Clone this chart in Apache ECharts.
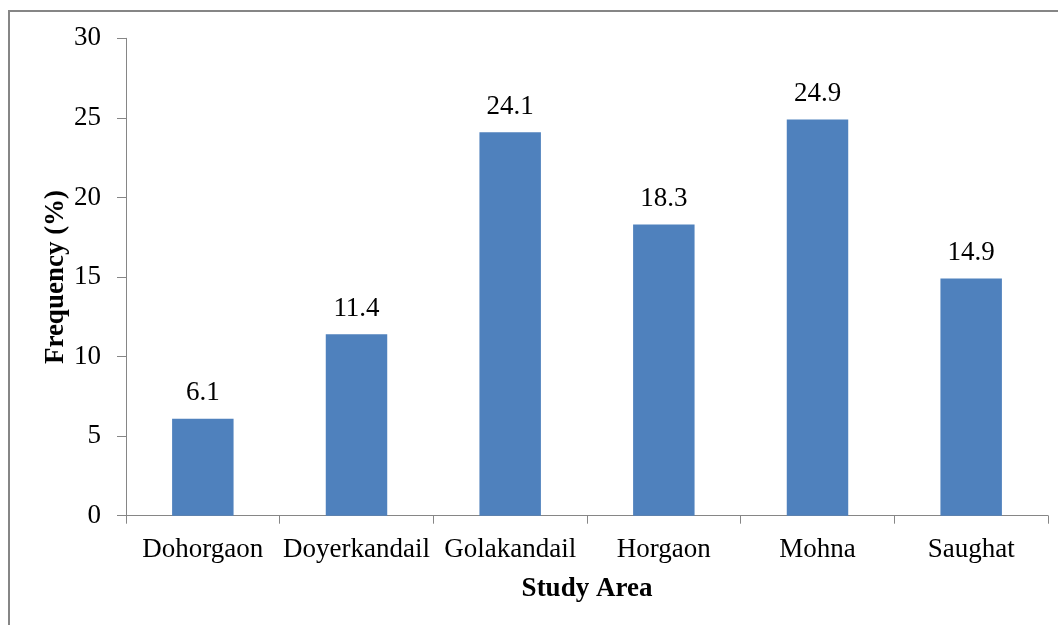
<!DOCTYPE html>
<html>
<head>
<meta charset="utf-8">
<script src="https://cdn.jsdelivr.net/npm/echarts@6/dist/echarts.min.js"></script>
<style>
html,body{margin:0;padding:0;background:#fff;}
#chart{width:1058px;height:625px;}
</style>
</head>
<body>
<div id="chart"></div>
<script>
var categories = ['Dohorgaon', 'Doyerkandail', 'Golakandail', 'Horgaon', 'Mohna', 'Saughat'];
var frequency = [6.1, 11.4, 24.1, 18.3, 24.9, 14.9];
var yTicks = [0, 5, 10, 15, 20, 25, 30];

var FONT = '"Liberation Serif", "Times New Roman", serif';
var AXIS_COLOR = '#868686';

var chart = echarts.init(document.getElementById('chart'), null, {renderer: 'canvas'});
chart.setOption({
  backgroundColor: '#fff',
  animation: false,
  graphic: [{
    type: 'rect',
    shape: {x: 9, y: 11, width: 1100, height: 700},
    style: {fill: 'none', stroke: AXIS_COLOR, lineWidth: 2},
    silent: true,
    z: 100
  }],
  grid: {left: 126, right: 10, top: 38.3, bottom: 109.3, containLabel: false},
  xAxis: {
    type: 'category',
    data: categories,
    name: 'Study Area',
    nameLocation: 'middle',
    nameGap: 60,
    nameMoveOverlap: false,
    nameTextStyle: {fontFamily: FONT, fontSize: 27, fontWeight: 'bold', color: '#000'},
    axisLine: {show: true, lineStyle: {color: AXIS_COLOR, width: 1}},
    axisTick: {show: true, length: 8, lineStyle: {color: AXIS_COLOR}},
    axisLabel: {fontFamily: FONT, fontSize: 27, color: '#000', margin: 21, interval: 0},
    splitLine: {show: false}
  },
  yAxis: {
    type: 'value',
    min: yTicks[0],
    max: yTicks[yTicks.length - 1],
    interval: 5,
    name: 'Frequency (%)',
    nameLocation: 'middle',
    nameRotate: 90,
    nameGap: 56,
    nameMoveOverlap: false,
    nameTextStyle: {fontFamily: FONT, fontSize: 27, fontWeight: 'bold', color: '#000'},
    axisLine: {show: true, lineStyle: {color: AXIS_COLOR, width: 1}},
    axisTick: {show: true, length: 9, lineStyle: {color: AXIS_COLOR}},
    axisLabel: {fontFamily: FONT, fontSize: 27, color: '#000', margin: 25},
    splitLine: {show: false}
  },
  series: [{
    type: 'bar',
    data: frequency,
    barWidth: '40%',
    itemStyle: {color: '#4F81BD'},
    label: {
      show: true,
      position: 'top',
      distance: 12,
      fontFamily: FONT,
      fontSize: 27,
      color: '#000',
      formatter: function (p) { return p.value.toFixed(1); }
    }
  }]
});
</script>
</body>
</html>
